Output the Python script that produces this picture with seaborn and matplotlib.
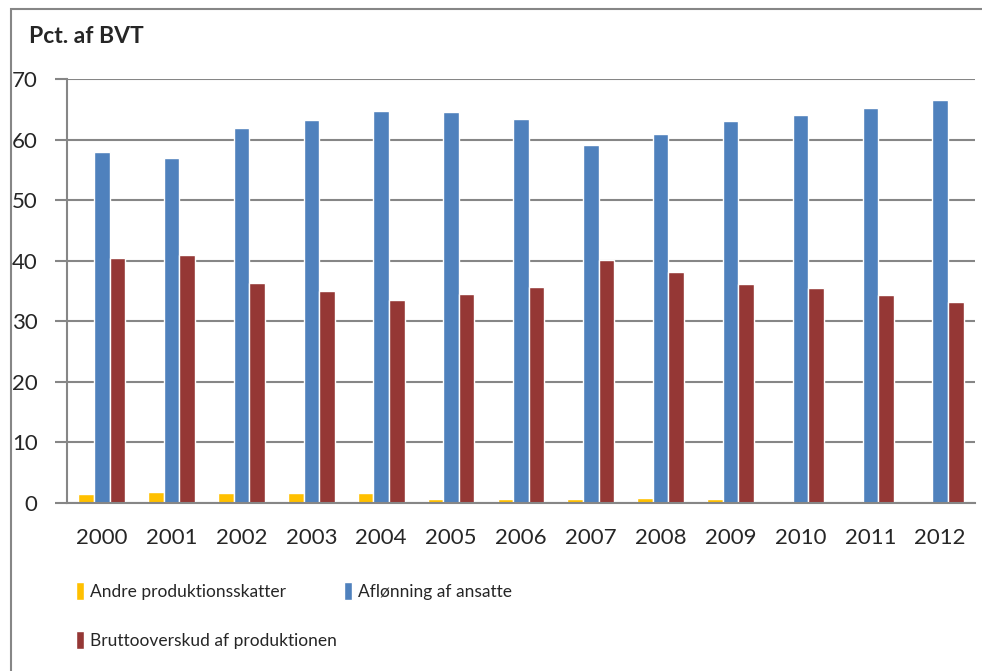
import numpy as np
import pandas as pd
import seaborn as sns
import matplotlib.pyplot as plt
from matplotlib.patches import Rectangle, Patch

# ── Data (Pct. af BVT) ──
years  = [str(y) for y in range(2000, 2013)]
andre  = [1.5, 1.8, 1.7, 1.6, 1.6, 0.6, 0.7, 0.6, 0.8, 0.6, 0.2, 0.2, 0.1]
aflon  = [58.0, 57.0, 61.9, 63.2, 64.7, 64.6, 63.5, 59.1, 61.0, 63.1, 64.1, 65.2, 66.5]
brutto = [40.4, 41.0, 36.3, 35.0, 33.5, 34.6, 35.7, 40.1, 38.2, 36.1, 35.5, 34.4, 33.2]

series = ["Andre produktionsskatter", "Aflønning af ansatte", "Bruttooverskud af produktionen"]
colors = ["#FFC000", "#4F81BD", "#953735"]

df = pd.DataFrame({
    "year":  years * 3,
    "value": andre + aflon + brutto,
    "serie": np.repeat(series, len(years)),
})

sns.set_style("white")
plt.rcParams["font.family"] = ["Lato", "DejaVu Sans"]

fig = plt.figure(figsize=(9.82, 6.71), dpi=100)
ax = fig.add_axes([0.068, 0.2504, 0.925, 0.6316])

sns.barplot(data=df, x="year", y="value", hue="serie", palette=colors,
            width=0.67, saturation=1, ax=ax, legend=False)

grid_c = "#868686"
ax.set_ylim(0, 70)
ax.set_xlim(-0.5, len(years) - 0.5)
ax.set_yticks(range(0, 71, 10))
ax.yaxis.grid(True, color=grid_c, lw=1.5)
ax.set_axisbelow(True)
ax.set_xlabel(""); ax.set_ylabel("")

for s in ("top", "right"):
    ax.spines[s].set_visible(False)
for s in ("left", "bottom"):
    ax.spines[s].set_color(grid_c)
    ax.spines[s].set_linewidth(1.5)

# ticks between categories on x, outward ticks on y
ax.set_xticks(np.arange(-0.5, len(years), 1), minor=True)
ax.tick_params(axis="x", which="major", length=0, labelsize=16, pad=18)
ax.tick_params(axis="x", which="minor", length=9, width=1.5, color=grid_c, direction="out")
ax.tick_params(axis="y", length=9, width=1.5, color=grid_c, direction="out",
               labelsize=16, pad=12, left=True)

fig.text(0.030, 0.946, "Pct. af BVT", fontsize=16.5, fontweight="bold", va="center")

# outer frame
fig.patches.append(Rectangle((0.0112, -0.1), 1.5, 1.0866, transform=fig.transFigure,
                             fill=False, edgecolor=grid_c, lw=1.5))

handles = [Patch(facecolor=colors[0]), Patch(facecolor=colors[2]), Patch(facecolor=colors[1])]
labels = [series[0], series[2], series[1]]
fig.legend(handles, labels, ncol=2, loc="upper left", bbox_to_anchor=(0.069, 0.145),
           frameon=False, fontsize=12.5,
           handlelength=0.45, handleheight=1.2,
           handletextpad=0.35, columnspacing=0.4, labelspacing=1.8, borderpad=0)

fig.savefig("out.png", dpi=100)
